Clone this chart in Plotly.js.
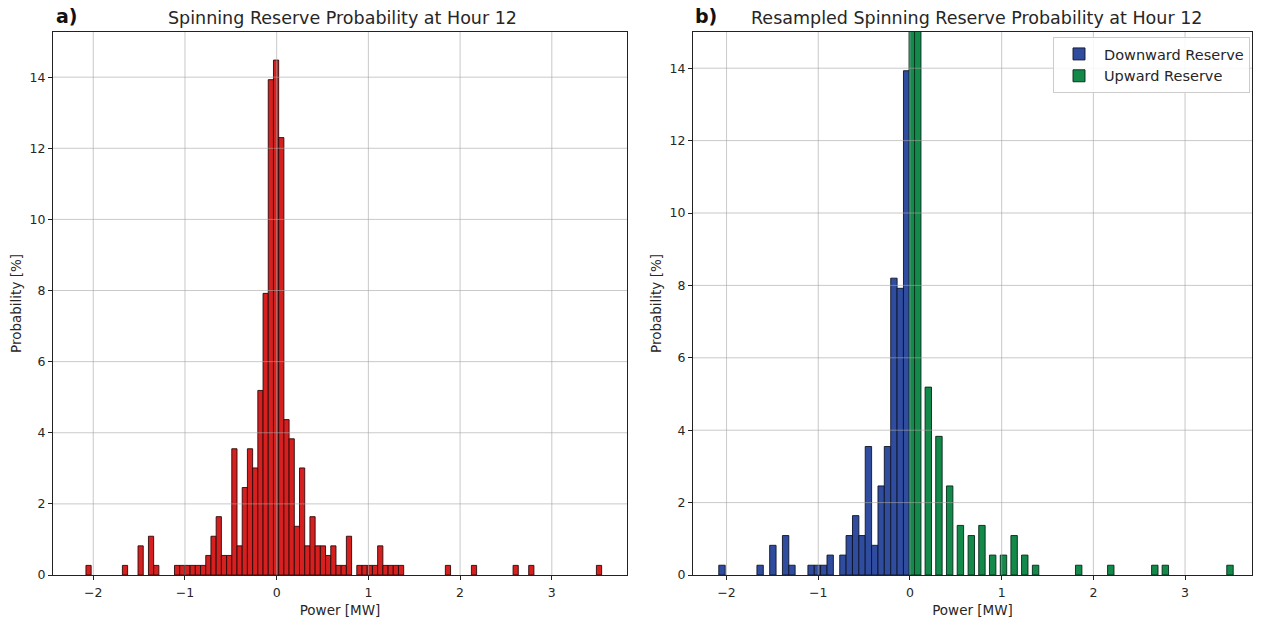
<!DOCTYPE html>
<html><head><meta charset="utf-8">
<script src="https://cdn.plot.ly/plotly-3.0.1.min.js"></script>
<style>html,body{margin:0;padding:0;background:#fff;} #chart{width:1261px;height:626px;}</style>
</head><body><div id="chart"></div>
<script>
// ---------- Panel a) : histogram of spinning reserve (probability %, per bin) ----------
const binStartA = -2.0798;   // left edge of first bin [MW]
const binWidthA = 0.0568;    // bin width [MW]
const probA = [
  0.27,0,0,0,0,0,0,0.27,0,0,
  0.82,0,1.09,0.27,0,0,0,0.27,0.27,0.27,
  0.27,0.27,0.27,0.55,1.09,1.64,0.55,0.55,3.55,0.82,
  2.46,3.55,3.01,5.19,7.92,13.93,14.48,12.30,4.37,3.83,
  1.37,3.01,0.82,1.64,0.82,0.82,0.55,0.82,0.27,0.27,
  1.09,0,0.27,0.27,0.27,0.27,0.82,0.27,0.27,0.27,
  0.27,0,0,0,0,0,0,0,0,0.27,
  0,0,0,0,0.27,0,0,0,0,0,
  0,0,0.27,0,0,0.27,0,0,0,0,
  0,0,0,0,0,0,0,0,0.27
];

// ---------- Panel b) : resampled reserve ----------
const downX = [-2.050,-1.634,-1.495,-1.356,-1.287,-1.078,-1.009,-0.940,-0.870,-0.731,
               -0.662,-0.592,-0.523,-0.453,-0.384,-0.314,-0.245,-0.175,-0.106,-0.036];
const downY = [0.27,0.27,0.82,1.09,0.27,0.27,0.27,0.27,0.55,0.55,
               1.09,1.64,1.09,3.55,0.82,2.46,3.55,8.20,7.92,13.93];
const upX = [0.025,0.085,0.200,0.316,0.433,0.550,0.669,0.785,0.902,1.020,
             1.136,1.252,1.370,1.840,2.190,2.670,2.785,3.490];
const upY = [15.85,15.30,5.19,3.83,2.46,1.37,1.09,1.37,0.55,0.55,
             1.09,0.55,0.27,0.27,0.27,0.27,0.27,0.27];

const xTicks = [-2,-1,0,1,2,3];
const yTicksA = [0,2,4,6,8,10,12,14];
const yTicksB = [0,2,4,6,8,10,12,14];

const titleA = 'Spinning Reserve Probability at Hour 12';
const titleB = 'Resampled Spinning Reserve Probability at Hour 12';
const xLabel = 'Power [MW]';
const yLabel = 'Probability [%]';
const nameDown = 'Downward Reserve';
const nameUp = 'Upward Reserve';

// ---------- build ----------
const W = 1261, H = 626;
const px = v => v / W;
const py = v => 1 - v / H;

const centersA = probA.map((_, i) => binStartA + (i + 0.5) * binWidthA);
const heightsA = probA.map(v => v > 0 ? v : null);

const FONT = 'DejaVu Sans, Verdana, sans-serif';
const TXT = '#262626';

const traces = [
  {type:'bar', x:centersA, y:heightsA, width:binWidthA, xaxis:'x', yaxis:'y',
   marker:{color:'#d61f1f', line:{color:'#2a0a0a', width:0.9}}, showlegend:false, hoverinfo:'x+y'},
  {type:'bar', x:downX, y:downY, width:0.0695, xaxis:'x2', yaxis:'y2', name:nameDown,
   marker:{color:'#2f4c9e', line:{color:'#0d1428', width:0.9}}},
  {type:'bar', x:upX, y:upY, width:0.07, xaxis:'x2', yaxis:'y2', name:nameUp,
   marker:{color:'#13894a', line:{color:'#06281a', width:0.9}}}
];

const axisCommon = {
  showgrid:false, zeroline:false, showline:true, mirror:true,
  linecolor:'#222', linewidth:1, ticks:'outside', ticklen:4, tickwidth:1, tickcolor:'#222',
  tickfont:{family:FONT, size:12.5, color:TXT}, automargin:false
};

const gridColor = 'rgba(165,165,165,0.6)';
const shapes = [];
function addGrid(xa, ya, xt, yt) {
  xt.forEach(t => shapes.push({type:'line', xref:xa, yref:ya+' domain', x0:t, x1:t, y0:0, y1:1,
    line:{color:gridColor, width:1}, layer:'above'}));
  yt.forEach(t => { if (t !== 0) shapes.push({type:'line', xref:xa+' domain', yref:ya, x0:0, x1:1, y0:t, y1:t,
    line:{color:gridColor, width:1}, layer:'above'}); });
}
addGrid('x', 'y', xTicks, yTicksA);
addGrid('x2', 'y2', xTicks, yTicksB);

const yDom = [py(575), py(32)];
const layout = {
  width:W, height:H, margin:{l:0, r:0, t:0, b:0},
  paper_bgcolor:'#fff', plot_bgcolor:'#fff',
  font:{family:FONT, size:12, color:TXT},
  barmode:'overlay',
  xaxis: Object.assign({}, axisCommon, {domain:[px(53), px(627)], range:[-2.439, 3.820],
    tickvals:xTicks, anchor:'y', ticklabelstandoff:2,
    title:{text:xLabel, font:{family:FONT, size:13.5, color:TXT}, standoff:6}}),
  yaxis: Object.assign({}, axisCommon, {domain:yDom, range:[0, 15.27], tickvals:yTicksA, anchor:'x',
    title:{text:yLabel, font:{family:FONT, size:13.5, color:TXT}, standoff:4}}),
  xaxis2: Object.assign({}, axisCommon, {domain:[px(693), px(1252)], range:[-2.366, 3.730],
    tickvals:xTicks, anchor:'y2', ticklabelstandoff:2,
    title:{text:xLabel, font:{family:FONT, size:13.5, color:TXT}, standoff:6}}),
  yaxis2: Object.assign({}, axisCommon, {domain:yDom, range:[0, 15], tickvals:yTicksB, anchor:'x2',
    title:{text:yLabel, font:{family:FONT, size:13.5, color:TXT}, standoff:4}}),
  shapes: shapes,
  legend:{x:px(1250), y:py(37), xanchor:'right', yanchor:'top',
    bgcolor:'rgba(255,255,255,0.85)', bordercolor:'#cccccc', borderwidth:1,
    font:{family:FONT, size:14.5, color:TXT}, itemwidth:40, tracegroupgap:2},
  annotations:[
    {text:titleA, xref:'paper', yref:'paper', x:px(343), y:py(18), xanchor:'center', yanchor:'middle',
     showarrow:false, font:{family:FONT, size:17.5, color:TXT}},
    {text:titleB, xref:'paper', yref:'paper', x:px(976), y:py(18), xanchor:'center', yanchor:'middle',
     showarrow:false, font:{family:FONT, size:17.5, color:TXT}},
    {text:'<b>a)</b>', xref:'paper', yref:'paper', x:px(54), y:py(16), xanchor:'left', yanchor:'middle',
     showarrow:false, font:{family:FONT, size:19, color:'#111'}},
    {text:'<b>b)</b>', xref:'paper', yref:'paper', x:px(693), y:py(16), xanchor:'left', yanchor:'middle',
     showarrow:false, font:{family:FONT, size:19, color:'#111'}}
  ]
};

Plotly.newPlot('chart', traces, layout, {displayModeBar:false, staticPlot:true});
</script>
</body></html>
